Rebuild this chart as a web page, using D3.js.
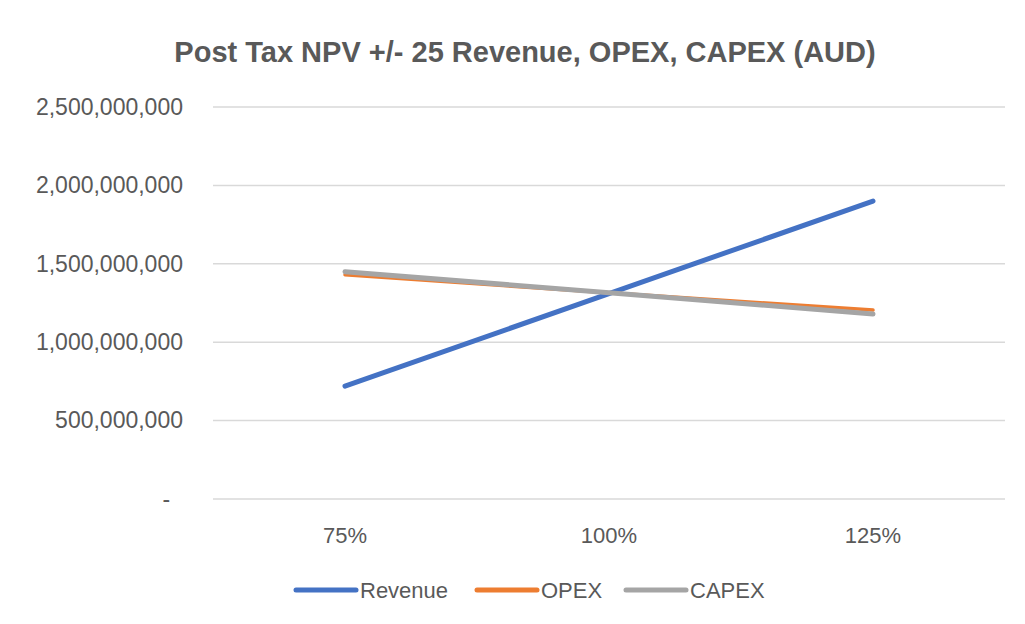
<!DOCTYPE html>
<html>
<head>
<meta charset="utf-8">
<script src="https://cdn.jsdelivr.net/npm/d3@7"></script>
<style>
  body { margin: 0; background: #fff; }
  text { font-family: "Liberation Sans", Arial, sans-serif; fill: #595959; }
</style>
</head>
<body>
<div class="canvas"></div>
<script>
// data
const categories = ['75%', '100%', '125%'];
const revenue = [720e6, 1310e6, 1900e6];
const opex = [1430e6, 1315e6, 1205e6];
const capex = [1450e6, 1315e6, 1180e6];
const yTicks = [0, 500e6, 1000e6, 1500e6, 2000e6, 2500e6];

const series = [
    { name: 'Revenue', values: revenue, color: '#4472C4' },
    { name: 'OPEX', values: opex, color: '#ED7D31' },
    { name: 'CAPEX', values: capex, color: '#A5A5A5' }
];

const width = 1025, height = 624;
const margin = { top: 107, right: 20, bottom: 125, left: 213 };
const graphWidth = width - margin.left - margin.right;
const graphHeight = height - margin.top - margin.bottom;

const svg = d3.select('.canvas')
    .append('svg')
    .attr('width', width)
    .attr('height', height);

// title
svg.append('text')
    .attr('x', 525)
    .attr('y', 62)
    .attr('text-anchor', 'middle')
    .style('font-size', '29px')
    .style('font-weight', 'bold')
    .text('Post Tax NPV +/- 25 Revenue, OPEX, CAPEX (AUD)');

const graph = svg.append('g')
    .attr('transform', `translate(${margin.left}, ${margin.top})`);

const xScale = d3.scaleBand()
    .domain(categories)
    .range([0, graphWidth]);

const yScale = d3.scaleLinear()
    .domain([0, 2500e6])
    .range([graphHeight, 0]);

// gridlines
graph.selectAll('line.grid')
    .data(yTicks)
    .enter()
    .append('line')
    .attr('class', 'grid')
    .attr('x1', 0)
    .attr('x2', graphWidth)
    .attr('y1', d => yScale(d))
    .attr('y2', d => yScale(d))
    .attr('stroke', '#d9d9d9')
    .attr('stroke-width', 1.5);

// y axis labels
const fmt = d3.format(',');
const yAxis = d3.axisLeft(yScale)
    .tickValues(yTicks)
    .tickSize(0)
    .tickPadding(30)
    .tickFormat(d => d === 0 ? '-\u00a0\u00a0' : fmt(d));
const yG = graph.append('g').call(yAxis);
yG.select('.domain').remove();
yG.selectAll('text').style('font-size', '23px').attr('fill', '#595959');

// x axis labels
const xAxis = d3.axisBottom(xScale).tickSize(0).tickPadding(28);
const xG = graph.append('g')
    .attr('transform', `translate(0, ${graphHeight})`)
    .call(xAxis);
xG.select('.domain').remove();
xG.selectAll('text').style('font-size', '22px').attr('fill', '#595959');

// lines
const line = d3.line()
    .x((d, i) => xScale(categories[i]) + xScale.bandwidth() / 2)
    .y(d => yScale(d));

graph.selectAll('path.series')
    .data(series)
    .enter()
    .append('path')
    .attr('class', 'series')
    .attr('d', d => line(d.values))
    .attr('fill', 'none')
    .attr('stroke', d => d.color)
    .attr('stroke-width', (d, i) => i === 1 ? 3.5 : 5)
    .attr('stroke-linecap', 'round');

// legend
const legendX = [296, 477, 626];
const legend = svg.selectAll('g.legend')
    .data(series)
    .enter()
    .append('g')
    .attr('class', 'legend')
    .attr('transform', (d, i) => `translate(${legendX[i]}, 590)`);

legend.append('line')
    .attr('x1', 0)
    .attr('x2', 60)
    .attr('stroke', d => d.color)
    .attr('stroke-width', 5)
    .attr('stroke-linecap', 'round');

legend.append('text')
    .attr('x', 64)
    .attr('dy', '0.35em')
    .style('font-size', '22px')
    .text(d => d.name);
</script>
</body>
</html>
